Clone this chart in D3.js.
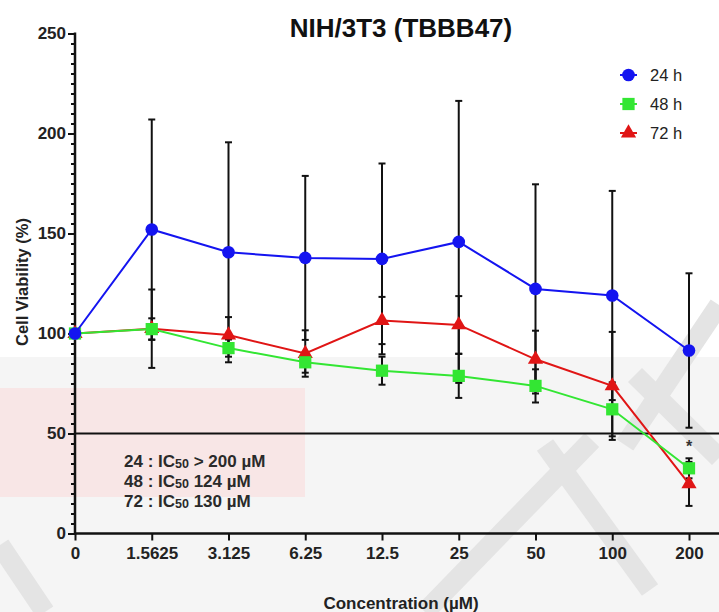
<!DOCTYPE html>
<html>
<head>
<meta charset="utf-8">
<script src="https://cdn.jsdelivr.net/npm/d3@7"></script>
<style>
  body { margin: 0; background: #fff; }
  text { font-family: "Liberation Sans", Arial, sans-serif; }
</style>
</head>
<body>
<script>
// concentrations (uM) and viability (%) per exposure time
var concs = ["0", "1.5625", "3.125", "6.25", "12.5", "25", "50", "100", "200"];
var v24 = [100, 152, 140.6, 137.8, 137.3, 145.8, 122.3, 119, 91.5];
var e24 = [0, 55, 55, 41, 47.7, 70.5, 52.3, 52.3, 38.6];
var v48 = [100, 102.2, 92.7, 85.6, 81.4, 78.8, 73.8, 62.1, 32.6];
var e48 = [0, 5.4, 4.3, 5.2, 7, 11, 8.3, 13.5, 5];
var v72 = [100, 102.4, 99.2, 90, 106.5, 104.3, 87.1, 73.8, 24.8];
var e72 = [0, 19.6, 9, 11.6, 11.8, 14.4, 14.3, 27, 11];
var yTicks = [0, 50, 100, 150, 200, 250];
var ic50Lines = ["24 : IC|50| > 200 \u00b5M", "48 : IC|50| 124 \u00b5M", "72 : IC|50| 130 \u00b5M"];

var w = 719, h = 612;

var svg = d3.select("body").append("svg")
  .attr("width", w)
  .attr("height", h);

// faint watermark in the background
var wm = svg.append("g");
wm.append("rect").attr("x", 0).attr("y", 357).attr("width", w).attr("height", 255).attr("fill", "#f5f5f5");
wm.append("rect").attr("x", 0).attr("y", 388).attr("width", 305).attr("height", 109).attr("fill", "#f8e6e6");
[[719, 305, 625, 445], [635, 375, 719, 458], [592, 440, 425, 612], [545, 445, 650, 590], [0, 545, 45, 612]].forEach(function(s) {
  wm.append("line").attr("x1", s[0]).attr("y1", s[1]).attr("x2", s[2]).attr("y2", s[3])
    .attr("stroke", "#e4e4e4").attr("stroke-width", 20);
});

var x = d3.scalePoint().domain(concs).range([75, 689]);
var y = d3.scaleLinear().domain([0, 250]).range([533.5, 33.5]);

// title
svg.append("text").attr("x", 401).attr("y", 37).attr("text-anchor", "middle")
  .attr("font-size", 26).attr("font-weight", "bold").attr("fill", "#111").text("NIH/3T3 (TBBB47)");

// 50% reference line
svg.append("line").attr("x1", 75).attr("x2", w).attr("y1", y(50)).attr("y2", y(50))
  .attr("stroke", "#111").attr("stroke-width", 2);

// y axis: minor ticks then major
var yMinor = svg.append("g").attr("transform", "translate(75,0)")
  .call(d3.axisLeft(y).tickValues(d3.range(0, 251, 5)).tickSize(4).tickFormat(""));
var yAxis = svg.append("g").attr("transform", "translate(75,0)")
  .call(d3.axisLeft(y).tickValues(yTicks).tickSize(7).tickPadding(2));
[yMinor, yAxis].forEach(function(g) {
  g.select(".domain").remove();
  g.selectAll("line").attr("stroke", "#111").attr("stroke-width", 2);
});
yAxis.selectAll("text").attr("font-size", 17).attr("font-weight", "bold").attr("fill", "#222");
svg.append("line").attr("x1", 75).attr("x2", 75).attr("y1", y(250) - 1).attr("y2", y(0) + 1)
  .attr("stroke", "#111").attr("stroke-width", 2.5);

// x axis
var xAxis = svg.append("g").attr("transform", "translate(0," + y(0) + ")")
  .call(d3.axisBottom(x).tickSize(7).tickPadding(6));
xAxis.select(".domain").remove();
xAxis.selectAll("line").attr("stroke", "#111").attr("stroke-width", 2);
xAxis.selectAll("text").attr("font-size", 17).attr("font-weight", "bold").attr("fill", "#222");
svg.append("line").attr("x1", 74).attr("x2", w).attr("y1", y(0)).attr("y2", y(0))
  .attr("stroke", "#111").attr("stroke-width", 2.5);

// axis titles
svg.append("text").attr("transform", "translate(28," + 282 + ") rotate(-90)")
  .attr("text-anchor", "middle").attr("font-size", 16.5).attr("font-weight", "bold")
  .attr("fill", "#222").text("Cell Viability (%)");
svg.append("text").attr("x", 401).attr("y", 609).attr("text-anchor", "middle")
  .attr("font-size", 17).attr("font-weight", "bold").attr("fill", "#222")
  .text("Concentration (\u00b5M)");

var series = [
  { name: "24 h", vals: v24, errs: e24, color: "#1414f0", shape: d3.symbolCircle, size: 125 },
  { name: "48 h", vals: v48, errs: e48, color: "#33e633", shape: d3.symbolSquare, size: 150 },
  { name: "72 h", vals: v72, errs: e72, color: "#e01515", shape: d3.symbolTriangle, size: 100 }
];

// error bars
series.forEach(function(s) {
  var g = svg.append("g");
  concs.forEach(function(c, i) {
    if (!s.errs[i]) return;
    var cx = x(c), top = y(s.vals[i] + s.errs[i]), bot = y(s.vals[i] - s.errs[i]);
    g.append("line").attr("x1", cx).attr("x2", cx).attr("y1", top).attr("y2", bot)
      .attr("stroke", "#111").attr("stroke-width", 2);
    [top, bot].forEach(function(yy) {
      g.append("line").attr("x1", cx - 3.5).attr("x2", cx + 3.5).attr("y1", yy).attr("y2", yy)
        .attr("stroke", "#111").attr("stroke-width", 2);
    });
  });
});

// lines + markers
var line = d3.line().x(function(d, i) { return x(concs[i]); }).y(function(d) { return y(d); });
series.slice().reverse().forEach(function(s) {
  svg.append("path").datum(s.vals).attr("d", line).attr("fill", "none")
    .attr("stroke", s.color).attr("stroke-width", 2);
  svg.selectAll(null).data(s.vals).enter().append("path")
    .attr("transform", function(d, i) { return "translate(" + x(concs[i]) + "," + y(d) + ")"; })
    .attr("d", d3.symbol().type(s.shape).size(s.size))
    .attr("fill", s.color);
});

// significance mark
svg.append("text").attr("x", x("200")).attr("y", y(41)).attr("text-anchor", "middle")
  .attr("font-size", 16).attr("font-weight", "bold").attr("fill", "#333").text("*");

// legend
var legend = svg.append("g");
series.forEach(function(s, i) {
  var ly = 75 + i * 29;
  legend.append("line").attr("x1", 620).attr("x2", 637).attr("y1", ly).attr("y2", ly)
    .attr("stroke", s.color).attr("stroke-width", 2);
  legend.append("path").attr("transform", "translate(628.5," + ly + ")")
    .attr("d", d3.symbol().type(s.shape).size(s.size)).attr("fill", s.color);
  legend.append("text").attr("x", 650).attr("y", ly + 6).attr("font-size", 16.5)
    .attr("fill", "#222").text(s.name);
});

// IC50 note
ic50Lines.forEach(function(t, i) {
  var parts = t.split("|");
  var tx = svg.append("text").attr("x", 124).attr("y", 467 + i * 20)
    .attr("font-size", 17).attr("font-weight", "bold").attr("fill", "#2a2a2a");
  tx.append("tspan").text(parts[0]);
  tx.append("tspan").attr("font-size", 12.5).attr("dy", 1).text(parts[1]);
  tx.append("tspan").attr("dy", -1).text(parts[2]);
});
</script>
</body>
</html>
